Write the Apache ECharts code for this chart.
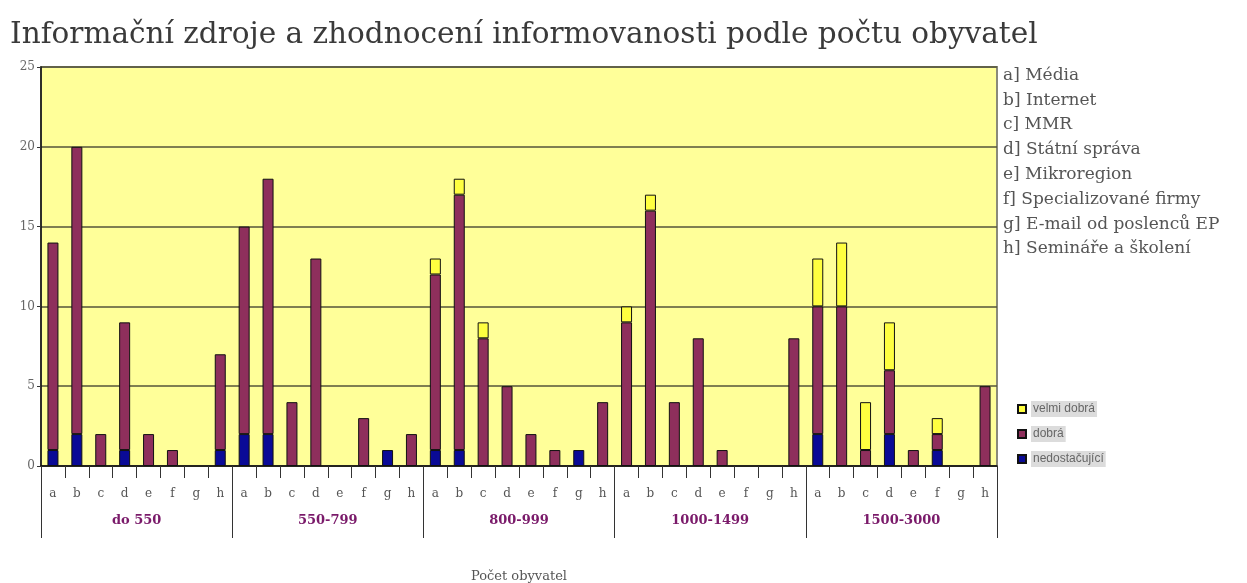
<!DOCTYPE html>
<html>
<head>
<meta charset="utf-8">
<script src="https://cdn.jsdelivr.net/npm/echarts@6/dist/echarts.min.js"></script>
<style>
  html, body { margin: 0; padding: 0; background: #fff; }
  #chart { width: 1247px; height: 583px; }
</style>
</head>
<body>
<div id="chart"></div>
<script>
  // kategorie (zdroje) a skupiny obci
  const letters = ['a', 'b', 'c', 'd', 'e', 'f', 'g', 'h']
  const groups = ['do 550', '550-799', '800-999', '1000-1499', '1500-3000']
  const sourceNames = ['Média', 'Internet', 'MMR', 'Státní správa', 'Mikroregion',
    'Specializované firmy', 'E-mail od poslenců EP', 'Semináře a školení']
  const yTicks = [0, 5, 10, 15, 20, 25]

  // hodnoty po skupinach (a..h)
  const nedostacujici = [
    1, 2, 0, 1, 0, 0, 0, 1,
    2, 2, 0, 0, 0, 0, 1, 0,
    1, 1, 0, 0, 0, 0, 1, 0,
    0, 0, 0, 0, 0, 0, 0, 0,
    2, 0, 0, 2, 0, 1, 0, 0
  ]
  const dobra = [
    13, 18, 2, 8, 2, 1, 0, 6,
    13, 16, 4, 13, 0, 3, 0, 2,
    11, 16, 8, 5, 2, 1, 0, 4,
    9, 16, 4, 8, 1, 0, 0, 8,
    8, 10, 1, 4, 1, 1, 0, 5
  ]
  const velmiDobra = [
    0, 0, 0, 0, 0, 0, 0, 0,
    0, 0, 0, 0, 0, 0, 0, 0,
    1, 1, 1, 0, 0, 0, 0, 0,
    1, 1, 0, 0, 0, 0, 0, 0,
    3, 4, 3, 3, 0, 1, 0, 0
  ]

  let categories = []
  groups.forEach(() => { categories = categories.concat(letters) })

  const clean = (arr) => arr.map(v => (v === 0 ? '-' : v))

  const serif = '"DejaVu Serif", "Liberation Serif", serif'

  let legendText = sourceNames.map((n, i) => letters[i] + '] ' + n).join('\n')

  let chart = echarts.init(document.getElementById('chart'))
  let barBase = {
    type: 'bar',
    stack: 'total',
    barWidth: 11
  }

  let option = {
    animation: false,
    backgroundColor: '#fff',
    title: {
      text: 'Informační zdroje a zhodnocení informovanosti podle počtu obyvatel',
      left: 5,
      top: 15,
      textStyle: { fontFamily: serif, fontSize: 29.5, fontWeight: 'normal', color: '#3a3a3a' }
    },
    legend: {
      orient: 'vertical',
      left: 1012,
      top: 396,
      itemWidth: 8,
      itemHeight: 8,
      itemGap: 9,
      icon: 'rect',
      data: ['velmi dobrá', 'dobrá', 'nedostačující'],
      textStyle: {
        fontSize: 12,
        color: '#666',
        backgroundColor: '#dcdcdc',
        padding: [2, 2]
      }
    },
    graphic: [{
      type: 'text',
      left: 1003,
      top: 63,
      style: {
        text: legendText,
        font: '17px ' + serif,
        fill: '#555',
        lineHeight: 24.8
      }
    }],
    grid: {
      left: 41,
      right: 250,
      top: 67,
      bottom: 117,
      outerBoundsMode: 'none',
      show: true,
      backgroundColor: '#ffff99',
      borderColor: '#8a8a7a',
      borderWidth: 2
    },
    xAxis: [{
      type: 'category',
      data: categories,
      axisLine: { show: true, lineStyle: { color: '#111', width: 1.5 } },
      axisTick: { show: true, interval: 0, length: 12, lineStyle: { color: '#333' } },
      axisLabel: { interval: 0, margin: 22, fontFamily: serif, fontSize: 12, color: '#555' }
    }, {
      type: 'category',
      data: groups,
      position: 'bottom',
      axisLine: { show: false },
      axisTick: { show: true, interval: 0, length: 72, lineStyle: { color: '#333' } },
      axisLabel: { interval: 0, margin: 48, fontFamily: serif, fontSize: 13, fontWeight: 'bold', color: '#7a1a6a' },
      name: 'Počet obyvatel',
      nameLocation: 'middle',
      nameGap: 104,
      nameTextStyle: { fontFamily: serif, fontSize: 13, color: '#555' }
    }],
    yAxis: {
      type: 'value',
      min: yTicks[0],
      max: yTicks[yTicks.length - 1],
      interval: 5,
      axisLine: { show: true, lineStyle: { color: '#111', width: 1.5 } },
      axisTick: { show: true, length: 4, lineStyle: { color: '#333' } },
      axisLabel: { fontFamily: serif, fontSize: 12, color: '#666', margin: 6 },
      splitLine: { lineStyle: { color: '#55553a', width: 1.5 } }
    },
    series: [
      Object.assign({}, barBase, { name: 'nedostačující', data: clean(nedostacujici), itemStyle: { color: '#0a0a96', borderColor: '#111', borderWidth: 1 } }),
      Object.assign({}, barBase, { name: 'dobrá', data: clean(dobra), itemStyle: { color: '#8e2f5c', borderColor: '#111', borderWidth: 1 } }),
      Object.assign({}, barBase, { name: 'velmi dobrá', data: clean(velmiDobra), itemStyle: { color: '#ffff40', borderColor: '#111', borderWidth: 1 } })
    ]
  }

  chart.setOption(option)

  window.addEventListener('resize', function () {
    chart.resize()
  })
</script>
</body>
</html>
